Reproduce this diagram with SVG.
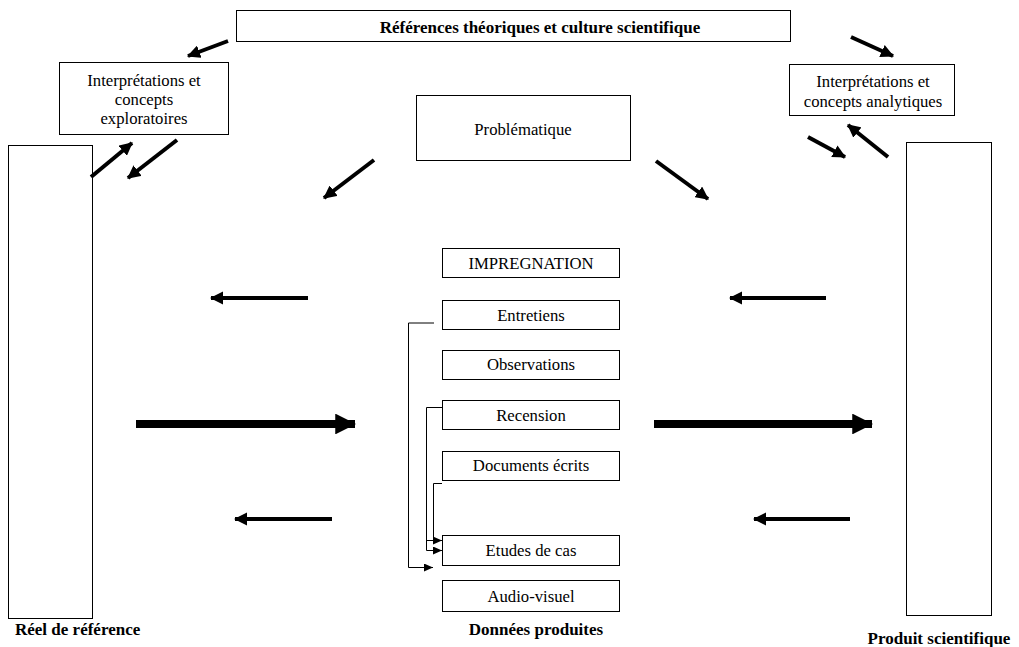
<svg xmlns="http://www.w3.org/2000/svg" width="1019" height="647" viewBox="0 0 1019 647">
<style>
.box{fill:#fff;stroke:#000;stroke-width:1}
text{font-family:"Liberation Serif","Times New Roman",serif;font-size:16.7px;fill:#000}
.c{text-anchor:middle}
.b{font-weight:bold;font-size:17px}
.a{stroke:#000;stroke-width:4;fill:none}
.ab{stroke:#000;stroke-width:8;fill:none}
.t{stroke:#000;stroke-width:1;fill:none}
</style>
<defs>
<marker id="h" viewBox="0 0 12 12" refX="11" refY="6" markerWidth="3.3" markerHeight="3.3" markerUnits="strokeWidth" orient="auto"><path d="M0,0 L12,6 L0,12 z" fill="#000"/></marker>
<marker id="hb" viewBox="0 0 20 20" refX="19" refY="10" markerWidth="2.6" markerHeight="2.6" markerUnits="strokeWidth" orient="auto"><path d="M0,0 L20,10 L0,20 z" fill="#000"/></marker>
<marker id="hs" viewBox="0 0 9 8" refX="9" refY="4" markerWidth="9" markerHeight="8" markerUnits="userSpaceOnUse" orient="auto"><path d="M0,0 L9,4 L0,8 z" fill="#000"/></marker>
</defs>
<g id="ref"><rect class="box" x="236.5" y="10.5" width="554" height="31"/><text class="c b" x="540" y="33">Références théoriques et culture scientifique</text></g>
<g id="explo"><rect class="box" x="59.5" y="62.5" width="169" height="72"/><text class="c" x="144" y="86">Interprétations et</text><text class="c" x="144" y="105">concepts</text><text class="c" x="144" y="124">exploratoires</text></g>
<g id="analy"><rect class="box" x="789.5" y="64.5" width="165" height="51"/><text class="c" x="873" y="87">Interprétations et</text><text class="c" x="873" y="107">concepts analytiques</text></g>
<g id="prob"><rect class="box" x="416.5" y="95.5" width="214" height="65"/><text class="c" x="523" y="135">Problématique</text></g>
<g id="reel"><rect class="box" x="8.5" y="145.5" width="84" height="473"/><text class="b" x="15" y="635">Réel de référence</text></g>
<g id="produit"><rect class="box" x="906.5" y="142.5" width="85" height="473"/><text class="c b" x="939" y="644">Produit scientifique</text></g>
<g id="impregnation"><rect class="box" x="442.5" y="248.5" width="177" height="29"/><text class="c" x="531" y="269">IMPREGNATION</text></g>
<g id="entretiens"><rect class="box" x="442.5" y="300.5" width="177" height="29"/><text class="c" x="531" y="321">Entretiens</text></g>
<g id="observations"><rect class="box" x="442.5" y="350.5" width="177" height="29"/><text class="c" x="531" y="370">Observations</text></g>
<g id="recension"><rect class="box" x="442.5" y="400.5" width="177" height="29"/><text class="c" x="531" y="421">Recension</text></g>
<g id="documents"><rect class="box" x="442.5" y="451.5" width="177" height="29"/><text class="c" x="531" y="471">Documents écrits</text></g>
<g id="etudes"><rect class="box" x="442.5" y="535.5" width="177" height="30"/><text class="c" x="531" y="556">Etudes de cas</text></g>
<g id="audio"><rect class="box" x="442.5" y="580.5" width="177" height="31"/><text class="c" x="531" y="602">Audio-visuel</text></g>
<text class="c b" x="536" y="635">Données produites</text>
<g id="connectors">
<line class="a" x1="228" y1="41" x2="188" y2="56" marker-end="url(#h)"/>
<line class="a" x1="851" y1="37" x2="893" y2="56" marker-end="url(#h)"/>
<line class="a" x1="91" y1="177" x2="132" y2="143" marker-end="url(#h)"/>
<line class="a" x1="177" y1="140" x2="128" y2="178" marker-end="url(#h)"/>
<line class="a" x1="374" y1="160" x2="324" y2="198" marker-end="url(#h)"/>
<line class="a" x1="656" y1="161" x2="708" y2="199" marker-end="url(#h)"/>
<line class="a" x1="808" y1="137" x2="845" y2="157" marker-end="url(#h)"/>
<line class="a" x1="888" y1="157" x2="848" y2="125" marker-end="url(#h)"/>
<line class="a" x1="308" y1="298" x2="211" y2="298" marker-end="url(#h)"/>
<line class="a" x1="332" y1="519" x2="235" y2="519" marker-end="url(#h)"/>
<line class="a" x1="826" y1="298" x2="730" y2="298" marker-end="url(#h)"/>
<line class="a" x1="850" y1="519" x2="754" y2="519" marker-end="url(#h)"/>
<line class="ab" x1="136" y1="424" x2="355" y2="424" marker-end="url(#hb)"/>
<line class="ab" x1="654" y1="424" x2="872" y2="424" marker-end="url(#hb)"/>
<polyline class="t" points="434,323 408.5,323 408.5,567.5 433,567.5" marker-end="url(#hs)"/>
<polyline class="t" points="442,407.5 426.5,407.5 426.5,550.5 442,550.5" marker-end="url(#hs)"/>
<polyline class="t" points="442,483.5 433.5,483.5 433.5,540.5 442,540.5" marker-end="url(#hs)"/>
<line class="t" x1="426.5" y1="540.5" x2="434" y2="540.5"/>
</g>
</svg>
